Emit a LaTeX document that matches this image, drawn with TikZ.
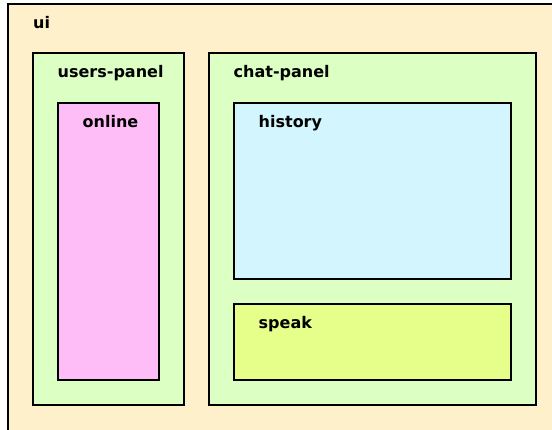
\documentclass[tikz,border=0pt]{standalone}
\usepackage{fontspec}
\setsansfont{DejaVu Sans}
\usetikzlibrary{positioning}
\definecolor{uiback}{HTML}{FFF0CC}
\definecolor{panelback}{HTML}{DCFFC4}
\definecolor{onlineback}{HTML}{FFBDF8}
\definecolor{historyback}{HTML}{D3F5FD}
\definecolor{speakback}{HTML}{E6FF8A}
\tikzset{
  panel/.style={draw, line width=2.4pt, anchor=north west, inner sep=0pt},
  tag/.style={anchor=base west, inner sep=0pt, font=\sffamily\bfseries\fontsize{16}{19}\selectfont},
}
\begin{document}
\begin{tikzpicture}[x=1pt, y=-1pt]
\useasboundingbox (0,0) rectangle (552,429);
\clip (0,0) rectangle (552,429);
\node (ui) [panel, fill=uiback, minimum width=600pt, minimum height=480pt] at (7,3) {};
\node (users) [panel, fill=panelback, minimum width=151pt, minimum height=352pt] at (32,52) {};
\node (online) [panel, fill=onlineback, minimum width=101pt, minimum height=277pt] at (57,102) {};
\node (chat) [panel, fill=panelback, minimum width=327pt, minimum height=352pt] at (208,52) {};
\node (history) [panel, fill=historyback, minimum width=277pt, minimum height=176pt] at (233,102) {};
\node (speak) [panel, fill=speakback, minimum width=277pt, minimum height=76pt] at (233,303) {};
% labels
\node (ui-tag) [below right=25pt and 26pt of ui.north west, tag] {ui};
\node (users-tag) [below right=25.5pt and 25.5pt of users.north west, tag] {users-panel};
\node (online-tag) [below right=25.5pt and 25.5pt of online.north west, tag] {online};
\node (chat-tag) [below right=25.5pt and 25.5pt of chat.north west, tag] {chat-panel};
\node (history-tag) [below right=25.5pt and 25.5pt of history.north west, tag] {history};
\node (speak-tag) [below right=25.5pt and 25.5pt of speak.north west, tag] {speak};
\end{tikzpicture}
\end{document}
